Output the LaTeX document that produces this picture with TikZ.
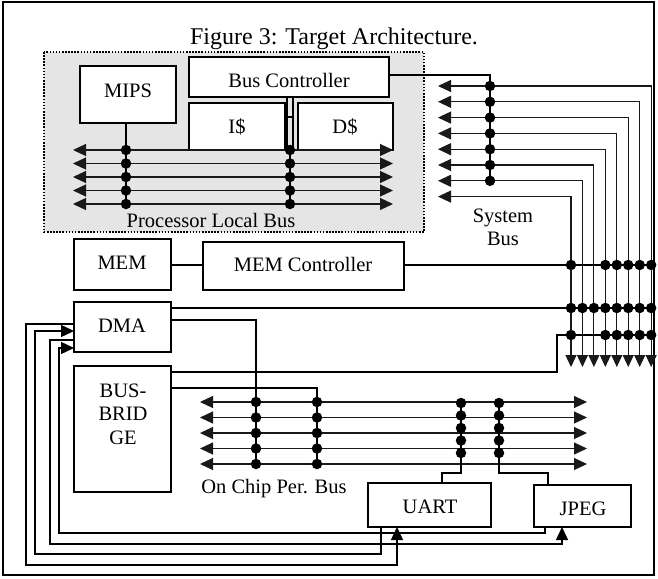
\documentclass[tikz,border=0pt]{standalone}
\usepackage{fontspec}
\setmainfont{Liberation Serif}
\usetikzlibrary{arrows.meta,calc}
\begin{document}
\begin{tikzpicture}[x=1pt,y=-1pt,
  blk/.style={draw,line width=1.8pt,fill=white,inner sep=0pt,outer sep=0pt},
  lbl/.style={font=\fontsize{20.5}{23.5}\selectfont,anchor=base,inner sep=0pt},
  busln/.style={line width=1.1pt,draw=black!90},
  wire/.style={line width=2pt},
  fb/.style={line width=1.4pt},
  tri/.tip={Triangle[length=13pt,width=12pt]},
  twoway/.style={tri-tri},
  oneway/.style={-tri},
  dotc/.style={circle,fill=black,inner sep=0pt,minimum size=10.5pt}
]
\useasboundingbox (0,0) rectangle (658,578);
% frame
\draw[line width=2.2pt] (3,2) rectangle (654,575);
% title
\node[font=\fontsize{24}{28}\selectfont,anchor=base,inner sep=0pt] (title) at (334,45) {Figure 3: Target Architecture.};
% processor region
\fill[black!10] (44,52) rectangle (424,232);
\draw[line width=1.6pt,dash pattern=on 1.6pt off 1.5pt] (44,52) rectangle (424,232);

% boxes
\node[blk,minimum width=96pt,minimum height=57pt] (mips) at (128,94.5) {};
\node[blk,minimum width=200pt,minimum height=40pt] (busctl) at (289,77) {};
\node[blk,minimum width=96pt,minimum height=47pt] (icache) at (237,126.5) {};
\node[blk,minimum width=95pt,minimum height=47pt] (dcache) at (345.5,126.5) {};
\node[blk,minimum width=97pt,minimum height=51pt] (mem) at (122.5,264.5) {};
\node[blk,minimum width=201pt,minimum height=48pt] (memctl) at (303.5,266) {};
\node[blk,minimum width=97pt,minimum height=50pt] (dma) at (122.5,327) {};
\node[blk,minimum width=97pt,minimum height=126pt] (bridge) at (122.5,429) {};
\node[blk,minimum width=123pt,minimum height=44pt] (uart) at (429.5,505) {};
\node[blk,minimum width=97pt,minimum height=42pt] (jpeg) at (582.5,506) {};

% labels
\node[lbl] (tmips) at (128,97) {MIPS};
\node[lbl] (tbusctl) at (289,87) {Bus Controller};
\node[lbl] (ticache) at (237,133) {I\$};
\node[lbl] (tdcache) at (345,133) {D\$};
\node[lbl] (tmem) at (122,269) {MEM};
\node[lbl] (tmemctl) at (303,271) {MEM Controller};
\node[lbl] (tdma) at (122,332) {DMA};
\node[lbl] (tb1) at (123,397) {BUS-};
\node[lbl] (tb2) at (123,420) {BRID};
\node[lbl] (tb3) at (123,444) {GE};
\node[lbl] (tuart) at (430,513) {UART};
\node[lbl] (tjpeg) at (583,515) {JPEG};
\node[lbl] (tplb) at (211,227) {Processor Local Bus};
\node[lbl] (tsys1) at (503,222) {System};
\node[lbl] (tsys2) at (503,245) {Bus};
\node[lbl] (topb) at (274,493) {On Chip Per. Bus};

% MEM -- MEM Controller
\draw[wire] (mem.east) -- (memctl.west |- mem.east);

% ---------- processor local bus ----------
\foreach \k in {0,...,4}{
  \pgfmathsetmacro\yy{150+13.5*\k}
  \coordinate (plbL\k) at (73,\yy);
  \coordinate (plbR\k) at (393,\yy);
  \draw[busln,twoway] (plbL\k) -- (plbR\k);
}
\coordinate (mipsdrop) at (126,123);
\coordinate (mipsend) at (126,204);
\draw[wire] (mipsdrop) -- (mipsend);
\coordinate (cjoin) at (290,150);
\coordinate (cend) at (290,204);
\draw[wire] (cjoin) -- (cend);
\coordinate (hA1) at (287,97); \coordinate (hA2) at (287,150);
\coordinate (hB1) at (293,97); \coordinate (hB2) at (293,150);
\coordinate (hM1) at (287,117); \coordinate (hM2) at (293,117);
\draw[line width=1.4pt] (hA1) -- (hA2) (hB1) -- (hB2) (hM1) -- (hM2);
\foreach \k in {0,...,4}{
  \node[dotc] (pd1\k) at (126,{150+13.5*\k}) {};
  \node[dotc] (pd2\k) at (290,{150+13.5*\k}) {};
}

% ---------- system bus ----------
\foreach \j in {0,...,7}{
  \pgfmathsetmacro\yy{86+15.8*\j}
  \pgfmathsetmacro\xx{571+11.45*(7-\j)}
  \coordinate (sbL\j) at (438,\yy);
  \coordinate (sbB\j) at (\xx,367);
  \draw[busln,tri-{Triangle[length=12pt,width=11pt]}] (sbL\j) -| (sbB\j);
}
\coordinate (bcout) at (389,75);
\coordinate (bccorner) at (490,75);
\coordinate (bcend) at (490,180.8);
\draw[wire] (bcout) -- (bccorner) -- (bcend);
\foreach \j in {0,...,6}{
  \node[dotc] (sbd\j) at (490,{86+15.8*\j}) {};
}

% MEM controller to system bus
\coordinate (mcout) at (404,265);
\coordinate (mcend) at (651.15,265);
\draw[wire] (mcout) -- (mcend);
% DMA to system bus
\coordinate (dmaout) at (171,308);
\coordinate (dmaend) at (651.15,308);
\draw[wire] (dmaout) -- (dmaend);
% bridge to system bus
\coordinate (brout) at (171,372);
\coordinate (brk1) at (557,372);
\coordinate (brk2) at (557,335);
\coordinate (brend) at (651.15,335);
\draw[wire] (brout) -- (brk1) -- (brk2) -- (brend);
\foreach \i in {0,3,4,5,6,7}{
  \node[dotc] (md\i) at ({571+11.45*\i},265) {};
  \node[dotc] (bd\i) at ({571+11.45*\i},335) {};
}
\foreach \i in {0,...,7}{
  \node[dotc] (dd\i) at ({571+11.45*\i},308) {};
}

% ---------- on chip peripheral bus ----------
\foreach \k in {0,...,4}{
  \pgfmathsetmacro\yy{402+15.5*\k}
  \coordinate (opL\k) at (200,\yy);
  \coordinate (opR\k) at (587,\yy);
  \draw[busln,twoway] (opL\k) -- (opR\k);
}
\coordinate (dma2out) at (171,320);
\coordinate (dma2k) at (256,320);
\coordinate (dma2end) at (256,464);
\draw[wire] (dma2out) -- (dma2k) -- (dma2end);
\coordinate (br2out) at (171,388);
\coordinate (br2k) at (317,388);
\coordinate (br2end) at (317,464);
\draw[wire] (br2out) -- (br2k) -- (br2end);
\foreach \k in {0,...,4}{
  \node[dotc] (od1\k) at (256,{402+15.5*\k}) {};
  \node[dotc] (od2\k) at (317,{402+15.5*\k}) {};
}
% UART and JPEG taps
\coordinate (ut0) at (461,403);
\coordinate (ut1) at (461,473);
\coordinate (ut2) at (442,473);
\coordinate (ut3) at (442,483);
\draw[wire] (ut0) -- (ut1) -- (ut2) -- (ut3);
\coordinate (jt0) at (499,403);
\coordinate (jt1) at (499,473);
\coordinate (jt2) at (548,473);
\coordinate (jt3) at (548,485);
\draw[wire] (jt0) -- (jt1) -- (jt2) -- (jt3);
\foreach \k in {0,...,4}{
  \node[dotc] (ud\k) at (461,{403+12.5*\k}) {};
  \node[dotc] (jd\k) at (499,{403+12.5*\k}) {};
}

% ---------- feedback lines DMA <-> UART/JPEG ----------
\coordinate (f1a) at (74,324);  \coordinate (f1b) at (26,565);  \coordinate (f1c) at (397,527);
\coordinate (f2a) at (381,527); \coordinate (f2b) at (35,554);  \coordinate (f2c) at (74,331);
\coordinate (f3a) at (74,340);  \coordinate (f3b) at (50,544);  \coordinate (f3c) at (562,527);
\coordinate (f4a) at (545,527); \coordinate (f4b) at (59,533);  \coordinate (f4c) at (74,348);
\draw[fb,oneway] (f1a) -| (f1b) -| (f1c);
\draw[fb,oneway] (f2a) |- (f2b) |- (f2c);
\draw[fb,oneway] (f3a) -| (f3b) -| (f3c);
\draw[fb,oneway] (f4a) |- (f4b) |- (f4c);
\end{tikzpicture}
\end{document}
